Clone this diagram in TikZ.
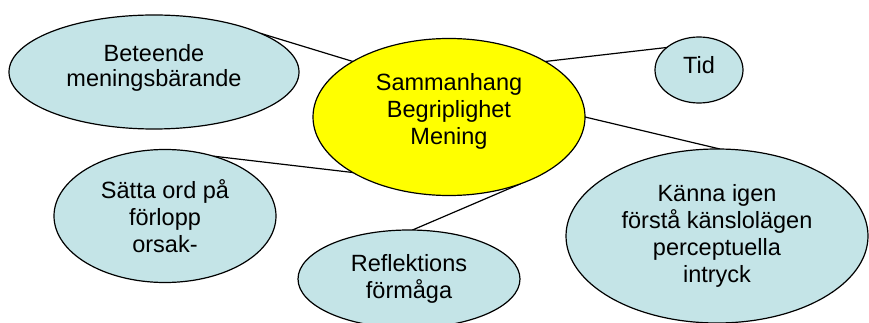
\documentclass[tikz,border=0pt]{standalone}
\usepackage{fontspec}
\setmainfont{Liberation Sans}
\usetikzlibrary{shapes.geometric,backgrounds}
\definecolor{bubble}{RGB}{196,228,231}
\definecolor{hub}{RGB}{255,255,0}
\tikzset{
  bub/.style={ellipse, draw=black, line width=1.2pt, fill=bubble, inner sep=0pt, outer sep=0pt, align=center,
    font=\fontsize{23.5}{27}\selectfont},
  link/.style={draw=black, line width=1.2pt}
}
\begin{document}
\begin{tikzpicture}[x=1pt,y=-1pt]
\useasboundingbox (0,0) rectangle (869,323);
\node[bub, fill=hub, minimum width=272pt, minimum height=157pt, text depth=17pt] (hub) at (449,117) {Sammanhang\\Begriplighet\\Mening};
\node[bub, minimum width=290pt, minimum height=114pt, text depth=14pt, font=\fontsize{23.5}{25}\selectfont] (bet) at (154,72) {Beteende\\meningsbärande};
\node[bub, minimum width=88pt, minimum height=66pt, text depth=10pt] (tid) at (699,70) {Tid};
\node[bub, minimum width=222pt, minimum height=133pt] (sat) at (165,216) {Sätta ord på\\förlopp\\orsak-};
\node[bub, minimum width=222pt, minimum height=98pt] (ref) at (409,279) {Reflektions\\förmåga};
\node[bub, minimum width=302pt, minimum height=174pt] (kan) at (717,236) {Känna igen\\förstå känslolägen\\perceptuella\\intryck};
\begin{scope}[on background layer]
\draw[link] (bet.20) -- (hub.150.6);
\draw[link] (sat.51.8) -- (hub.210.4);
\draw[link] (tid.145.5) -- (hub.30.1);
\draw[link] (kan.88) -- (hub.-0.5);
\draw[link] (ref.86.5) -- (hub.-43.5);
\end{scope}
\end{tikzpicture}
\end{document}
